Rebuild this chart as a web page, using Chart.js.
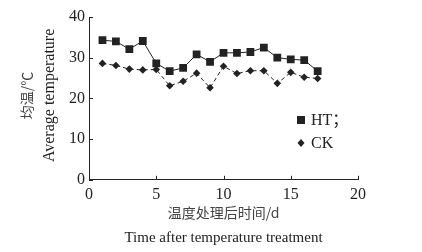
<!DOCTYPE html>
<html>
<head>
<meta charset="utf-8">
<script src="https://cdn.jsdelivr.net/npm/chart.js@4/dist/chart.umd.min.js"></script>
<style>
  html, body { margin: 0; padding: 0; background: #fff; }
  #wrap { width: 422px; height: 252px; }
</style>
</head>
<body>
<div id="wrap"><canvas id="chart" width="422" height="252"></canvas></div>
<script>
// Data
const days = [1, 2, 3, 4, 5, 6, 7, 8, 9, 10, 11, 12, 13, 14, 15, 16, 17];
const htValues = [34.3, 34.0, 32.1, 34.1, 28.6, 26.7, 27.5, 30.8, 29.0, 31.2, 31.2, 31.4, 32.5, 30.0, 29.6, 29.4, 26.7];
const ckValues = [28.6, 28.1, 27.2, 27.0, 27.1, 23.1, 24.2, 26.2, 22.6, 27.9, 26.1, 26.8, 26.8, 23.7, 26.4, 25.2, 24.9];
const xTicks = [0, 5, 10, 15, 20];
const yTicks = [0, 10, 20, 30, 40];
const seriesNames = ['HT；', 'CK'];
const xTitle = ['温度处理后时间/d', 'Time after temperature treatment'];
const yTitle = ['均温/℃', 'Average temperature'];

const ink = '#222';
const cjkInk = '#444';
const fontFamily = '"Liberation Serif", "Noto Sans CJK SC", serif';
const cjkFamily = '"Noto Sans CJK SC", sans-serif';

function toPoints(values) {
    return days.map((d, i) => ({ x: d, y: values[i] }));
}

// Inward ticks, axis titles and the small inside legend
const extras = {
    id: 'extras',
    afterDraw(chart) {
        const ctx = chart.ctx;
        const xs = chart.scales.x, ys = chart.scales.y;
        const area = chart.chartArea;
        ctx.save();
        ctx.strokeStyle = ink;
        ctx.lineWidth = 1;
        ctx.beginPath();
        xTicks.forEach(v => {
            const px = Math.round(xs.getPixelForValue(v)) + 0.5;
            ctx.moveTo(px, area.bottom);
            ctx.lineTo(px, area.bottom - 4);
        });
        yTicks.forEach(v => {
            const py = Math.round(ys.getPixelForValue(v)) + 0.5;
            ctx.moveTo(area.left, py);
            ctx.lineTo(area.left + 4, py);
        });
        ctx.stroke();

        // axis titles
        const cx = (area.left + area.right) / 2;
        const cy = (area.top + area.bottom) / 2 - 3;
        ctx.textAlign = 'center';
        ctx.textBaseline = 'middle';
        ctx.fillStyle = cjkInk;
        ctx.font = '14px ' + cjkFamily;
        ctx.fillText(xTitle[0], cx, area.bottom + 33);
        ctx.fillStyle = ink;
        ctx.font = '15px ' + fontFamily;
        ctx.fillText(xTitle[1], cx, area.bottom + 58);

        ctx.save();
        ctx.translate(27, cy);
        ctx.rotate(-Math.PI / 2);
        ctx.fillStyle = cjkInk;
        ctx.font = '14px ' + cjkFamily;
        ctx.fillText(yTitle[0], 0, 0);
        ctx.restore();
        ctx.save();
        ctx.translate(50, cy);
        ctx.rotate(-Math.PI / 2);
        ctx.fillStyle = ink;
        ctx.font = '16px ' + fontFamily;
        ctx.fillText(yTitle[1], 0, 0);
        ctx.restore();

        // legend
        const lx = 301, ly1 = 120, ly2 = 143;
        ctx.textAlign = 'left';
        ctx.fillStyle = ink;
        ctx.fillRect(lx - 4, ly1 - 4, 8, 8);
        ctx.beginPath();
        ctx.moveTo(lx, ly2 - 4);
        ctx.lineTo(lx + 3.5, ly2);
        ctx.lineTo(lx, ly2 + 4);
        ctx.lineTo(lx - 3.5, ly2);
        ctx.closePath();
        ctx.fill();
        ctx.font = '16px ' + fontFamily;
        ctx.fillText(seriesNames[0], lx + 10, ly1 + 1);
        ctx.fillText(seriesNames[1], lx + 10, ly2 + 1);
        ctx.restore();
    }
};

function initChart() {
    const ctx = document.getElementById('chart').getContext('2d');
    new Chart(ctx, {
        type: 'line',
        data: {
            datasets: [{
                label: seriesNames[0],
                data: toPoints(htValues),
                borderColor: ink,
                backgroundColor: ink,
                borderWidth: 1,
                pointStyle: 'rect',
                pointRadius: 5.5,
                pointBorderWidth: 0,
                tension: 0
            }, {
                label: seriesNames[1],
                data: toPoints(ckValues),
                borderColor: ink,
                backgroundColor: ink,
                borderWidth: 1,
                borderDash: [4, 3],
                pointStyle: 'rectRot',
                pointRadius: 3.8,
                pointBorderWidth: 0,
                tension: 0
            }]
        },
        options: {
            responsive: false,
            animation: false,
            layout: { padding: { top: 17, right: 64, left: 65, bottom: 43 } },
            plugins: {
                legend: { display: false },
                tooltip: { enabled: false }
            },
            scales: {
                x: {
                    type: 'linear',
                    min: 0,
                    max: 20,
                    afterBuildTicks: axis => { axis.ticks = xTicks.map(v => ({ value: v })); },
                    grid: { display: false, drawTicks: false },
                    border: { color: ink, width: 1 },
                    ticks: { color: ink, padding: 5, font: { size: 16, family: fontFamily } }
                },
                y: {
                    min: 0,
                    max: 40,
                    afterBuildTicks: axis => { axis.ticks = yTicks.map(v => ({ value: v })); },
                    grid: { display: false, drawTicks: false },
                    border: { color: ink, width: 1 },
                    ticks: { color: ink, padding: 4, font: { size: 16, family: fontFamily } }
                }
            }
        },
        plugins: [extras]
    });
}

document.addEventListener('DOMContentLoaded', initChart);
</script>
</body>
</html>
